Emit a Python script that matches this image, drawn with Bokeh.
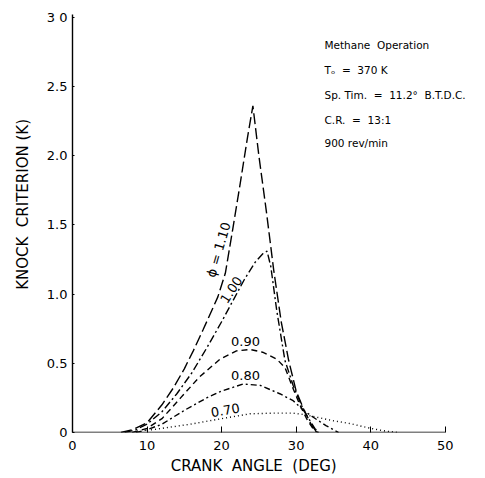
import math
from bokeh.plotting import figure
from bokeh.models import Label, Range1d, FixedTicker
from bokeh.embed import file_html
from bokeh.resources import INLINE

# ---- data ----
x_ticks = [0, 10, 20, 30, 40, 50]
y_ticks = [0, 0.5, 1.0, 1.5, 2.0, 2.5, 3.0]
y_tick_labels = {0: "0", 0.5: "0.5", 1.0: "1.0", 1.5: "1.5", 2.0: "2.0", 2.5: "2.5", 3.0: "3 0"}

phi110_x = [6.5, 8, 10, 12, 13.5, 15, 16.2, 17.5, 18.5, 19.5, 20.5, 21.5, 22.5, 23.5, 24.2, 25, 26, 27, 28, 29, 30, 31, 32, 32.8]
phi110_y = [0, 0.02, 0.07, 0.2, 0.32, 0.46, 0.59, 0.74, 0.86, 0.98, 1.15, 1.47, 1.8, 2.14, 2.36, 2.0, 1.6, 1.17, 0.8, 0.52, 0.3, 0.17, 0.06, 0]

phi100_x = [7, 8.5, 10, 12, 14, 16, 18, 20, 21.5, 23, 24.5, 25.5, 26.1, 26.6, 27.4, 28.5, 29.6, 31, 32.5, 33]
phi100_y = [0, 0.02, 0.06, 0.15, 0.28, 0.43, 0.61, 0.8, 0.95, 1.1, 1.23, 1.29, 1.31, 1.2, 0.88, 0.52, 0.34, 0.16, 0.03, 0]

phi090_x = [8, 10, 12, 14.5, 17, 19.8, 22, 23.8, 25.5, 27.4, 28.5, 29.5, 30.5, 31.5, 32.5, 33]
phi090_y = [0, 0.03, 0.1, 0.25, 0.4, 0.53, 0.59, 0.6, 0.58, 0.53, 0.47, 0.33, 0.2, 0.09, 0.01, 0]

phi080_x = [8.5, 10, 12, 13.5, 15, 18, 20, 22.9, 25.2, 27.8, 29.6, 31, 32.3, 34, 35.7]
phi080_y = [0, 0.02, 0.06, 0.11, 0.16, 0.25, 0.3, 0.35, 0.34, 0.28, 0.23, 0.16, 0.11, 0.05, 0]

phi070_x = [10, 12, 15.8, 20, 23.8, 26.9, 29.6, 31, 32.8, 35, 37.2, 40, 42, 43.7]
phi070_y = [0.015, 0.03, 0.06, 0.1, 0.135, 0.14, 0.14, 0.13, 0.11, 0.085, 0.065, 0.03, 0.01, 0]

curve_labels = ["\u03d5 = 1.10", "1.00", "0.90", "0.80", "0.70"]
curve_label_x = [19.6, 21.3, 23.2, 23.2, 20.5]
curve_label_y = [1.32, 1.03, 0.66, 0.41, 0.16]
curve_label_angle = [74, 57, 0, 0, 10]

NB = "\u00a0"
info_lines = ["Methane" + NB + " Operation",
              "T\u2092" + NB + " = " + NB + "370 K",
              "Sp. Tim." + NB + " = " + NB + "11.2\u00b0" + NB + " B.T.D.C.",
              "C.R." + NB + " = " + NB + "13:1",
              "900 rev/min"]
info_x = 33.8
info_y = [2.80, 2.62, 2.44, 2.26, 2.09]

x_title = "CRANK" + NB + " ANGLE" + NB + " (DEG)" + NB * 10
y_title = NB * 8 + "KNOCK" + NB + " CRITERION (K)"

FONT = "DejaVu Sans"

p = figure(width=485, height=478, x_range=Range1d(0, 55.0), y_range=Range1d(0, 3.02),
           output_backend="svg", toolbar_location=None,
           min_border_left=72, min_border_right=3, min_border_top=14, min_border_bottom=46)
p.outline_line_color = None
p.grid.visible = False
p.background_fill_color = "white"

line_style = dict(line_color="black", line_width=1.4)
# bottom axis line, only over the labelled tick span
p.line([x_ticks[0], x_ticks[-1]], [y_ticks[0], y_ticks[0]], line_color="black", line_width=1.4)

p.line(phi110_x, phi110_y, line_dash="11 4", **line_style)
p.line(phi100_x, phi100_y, line_dash="8 3 2 3", **line_style)
p.line(phi090_x, phi090_y, line_dash="6 4", **line_style)
p.line(phi080_x, phi080_y, line_dash="6 3 2 3", **line_style)
p.line(phi070_x, phi070_y, line_dash="1 3", **line_style)

for t, x, y, a in zip(curve_labels, curve_label_x, curve_label_y, curve_label_angle):
    p.add_layout(Label(x=x, y=y, text=t, angle=math.radians(a), text_align="center",
                       text_baseline="middle", text_font=FONT, text_font_size="13px",
                       text_color="black"))

for t, y in zip(info_lines, info_y):
    p.add_layout(Label(x=info_x, y=y, text=t, text_align="left", text_baseline="middle",
                       text_font=FONT, text_font_size="10.5px", text_color="black"))

p.xaxis.ticker = FixedTicker(ticks=x_ticks)
p.yaxis.ticker = FixedTicker(ticks=y_ticks)
p.yaxis.major_label_overrides = y_tick_labels
for ax in (p.xaxis, p.yaxis):
    ax.axis_line_color = "black"
    ax.axis_line_width = 1.4
    ax.major_tick_line_color = "black"
    ax.minor_tick_line_color = None
    ax.major_tick_out = 0
    ax.major_label_text_font = FONT
    ax.major_label_text_font_size = "13px"
    ax.major_label_text_color = "black"
    ax.axis_label_text_font = FONT
    ax.axis_label_text_font_size = "15px"
    ax.axis_label_text_font_style = "normal"
    ax.axis_label_text_color = "black"
p.xaxis.axis_line_color = None
p.xaxis.major_tick_in = 6
p.yaxis.major_tick_in = 2
p.xaxis.major_label_standoff = 8
p.yaxis.major_label_standoff = 5
p.xaxis.axis_label = x_title
p.yaxis.axis_label = y_title
p.xaxis.axis_label_standoff = 4
p.yaxis.axis_label_standoff = 12

open("out.html", "w").write(file_html(p, INLINE))
